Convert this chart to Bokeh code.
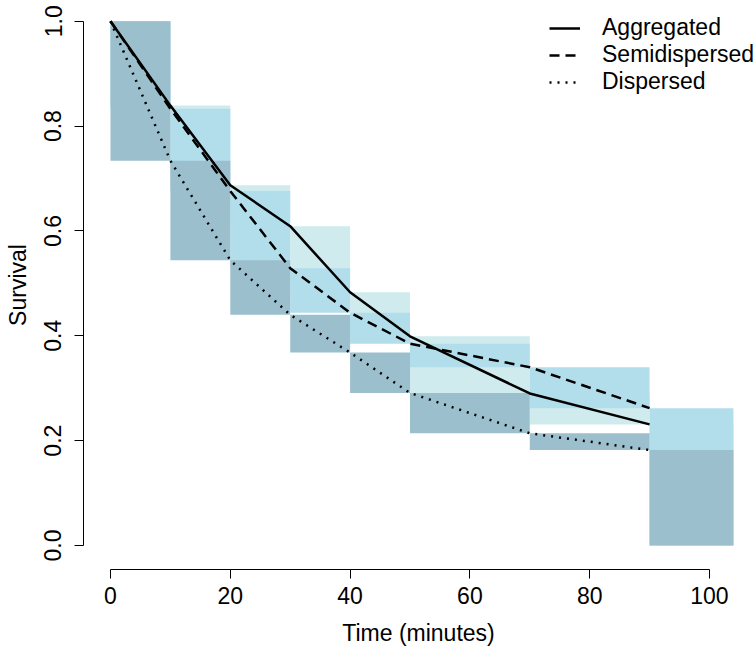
from bokeh.plotting import figure
from bokeh.models import (Range1d, FixedTicker, PrintfTickFormatter, Legend, LegendItem,
                          ColumnDataSource)
from bokeh.embed import file_html
from bokeh.resources import INLINE

# ---- data ----
times = [0, 10, 20, 30, 40, 50, 70, 90]
aggregated = [1.0, 0.839, 0.687, 0.609, 0.483, 0.399, 0.290, 0.231]
semidispersed = [1.0, 0.833, 0.676, 0.529, 0.444, 0.385, 0.340, 0.262]
dispersed = [1.0, 0.734, 0.544, 0.440, 0.368, 0.291, 0.214, 0.182]
end_time = 104
end_survival = 0.0
x_ticks = [0, 20, 40, 60, 80, 100]
y_ticks = [0.0, 0.2, 0.4, 0.6, 0.8, 1.0]
series_names = ["Aggregated", "Semidispersed", "Dispersed"]

FONT = "Liberation Sans"
FS = "23px"

p = figure(width=753, height=651, output_backend="svg", toolbar_location=None,
           x_range=Range1d(-4.508, 107.35), y_range=Range1d(-0.0458, 1.0395),
           min_border_left=83, min_border_right=0, min_border_top=0, min_border_bottom=82,
           background_fill_color="white", border_fill_color="white")
p.outline_line_color = None
p.xgrid.visible = False
p.ygrid.visible = False

edges = times + [end_time]


def boxes(values):
    s = values + [end_survival]
    return ColumnDataSource(dict(left=edges[:-1], right=edges[1:], top=s[:-1], bottom=s[1:]))


p.quad(source=boxes(aggregated), left="left", right="right", top="top", bottom="bottom",
       fill_color="#cfebee", line_color=None)
p.quad(source=boxes(semidispersed), left="left", right="right", top="top", bottom="bottom",
       fill_color="#b2deec", line_color=None)
p.quad(source=boxes(dispersed), left="left", right="right", top="top", bottom="bottom",
       fill_color="#9bbfcd", line_color=None)

r1 = p.line(times, aggregated, line_color="black", line_width=2.5)
r2 = p.line(times, semidispersed, line_color="black", line_width=2.5, line_dash="10 6")
r3 = p.line(times, dispersed, line_color="black", line_width=2.5, line_dash="2 6")

for ax in (p.xaxis[0], p.yaxis[0]):
    ax.major_tick_out = 9
    ax.major_tick_in = 0
    ax.minor_tick_out = 0
    ax.minor_tick_in = 0
    ax.axis_line_color = "black"
    ax.axis_line_width = 1
    ax.major_tick_line_color = "black"
    ax.major_label_text_font = FONT
    ax.major_label_text_font_size = FS
    ax.major_label_text_color = "black"
    ax.axis_label_text_font = FONT
    ax.axis_label_text_font_size = FS
    ax.axis_label_text_font_style = "normal"
    ax.axis_label_text_color = "black"

p.xaxis.ticker = FixedTicker(ticks=x_ticks)
p.yaxis.ticker = FixedTicker(ticks=y_ticks)
p.yaxis.formatter = PrintfTickFormatter(format="%.1f")
p.xaxis.bounds = (x_ticks[0], x_ticks[-1])
p.yaxis.bounds = (y_ticks[0], y_ticks[-1])
p.xaxis.major_label_standoff = 8
p.yaxis.major_label_standoff = 13
p.yaxis.major_label_orientation = "vertical"
p.xaxis.axis_label = "Time (minutes)"
p.xaxis.axis_label_standoff = 13
p.yaxis.axis_label = "Survival"
p.yaxis.axis_label_standoff = 11

legend = Legend(items=[LegendItem(label=series_names[0], renderers=[r1]),
                       LegendItem(label=series_names[1], renderers=[r2]),
                       LegendItem(label=series_names[2], renderers=[r3])],
                location=(466, 474), glyph_width=31, glyph_height=20, label_height=20,
                label_standoff=22, spacing=-2, padding=0, margin=0,
                border_line_color=None, background_fill_alpha=0,
                label_text_font=FONT, label_text_font_size=FS, label_text_color="black")
p.add_layout(legend)

open("out.html", "w").write(file_html(p, INLINE))
